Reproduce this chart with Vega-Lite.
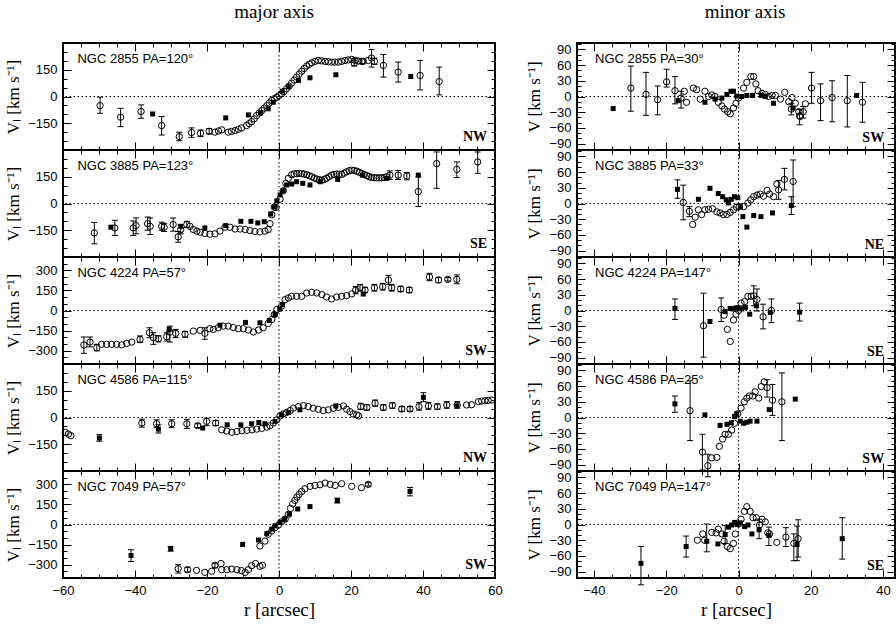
{
"$schema": "https://vega.github.io/schema/vega-lite/v6.json",
"background": "white",
"padding": {"left": 3, "top": 2, "right": 0, "bottom": 0},
"datasets": {"pts": [
{"g":"A1","t":"o","r":-49.7,"v":-51,"lo":-94,"hi":-4},
{"g":"A1","t":"o","r":-44,"v":-116,"lo":-169,"hi":-66},
{"g":"A1","t":"o","r":-38.3,"v":-84,"lo":-122,"hi":-47},
{"g":"A1","t":"s","r":-35.1,"v":-98},
{"g":"A1","t":"o","r":-32.6,"v":-163,"lo":-216,"hi":-112},
{"g":"A1","t":"o","r":-27.7,"v":-225,"lo":-248,"hi":-200},
{"g":"A1","t":"o","r":-24.3,"v":-202,"lo":-229,"hi":-176},
{"g":"A1","t":"o","r":-21.8,"v":-206,"lo":-225,"hi":-188},
{"g":"A1","t":"o","r":-19.4,"v":-195,"lo":-210,"hi":-180},
{"g":"A1","t":"o","r":-17.8,"v":-200},{"g":"A1","t":"o","r":-16.8,"v":-193},{"g":"A1","t":"o","r":-15.9,"v":-187},{"g":"A1","t":"o","r":-14.1,"v":-200},{"g":"A1","t":"o","r":-13.2,"v":-196},{"g":"A1","t":"o","r":-12.2,"v":-191},{"g":"A1","t":"o","r":-11.3,"v":-184},{"g":"A1","t":"o","r":-10.4,"v":-176},{"g":"A1","t":"o","r":-9,"v":-163},{"g":"A1","t":"o","r":-8.3,"v":-152},{"g":"A1","t":"o","r":-7.6,"v":-141},{"g":"A1","t":"o","r":-6.9,"v":-125},{"g":"A1","t":"o","r":-6.2,"v":-107},{"g":"A1","t":"o","r":-5.5,"v":-93},{"g":"A1","t":"o","r":-4.8,"v":-79},{"g":"A1","t":"o","r":-4.1,"v":-65},{"g":"A1","t":"o","r":-3.4,"v":-51},{"g":"A1","t":"o","r":-2.7,"v":-37},{"g":"A1","t":"o","r":-2,"v":-22},{"g":"A1","t":"o","r":-1.3,"v":-12},{"g":"A1","t":"o","r":-0.6,"v":-4},{"g":"A1","t":"o","r":0,"v":5},{"g":"A1","t":"o","r":0.7,"v":15},{"g":"A1","t":"o","r":1.4,"v":28},{"g":"A1","t":"o","r":2.1,"v":43},{"g":"A1","t":"o","r":2.8,"v":58},{"g":"A1","t":"o","r":3.5,"v":75},{"g":"A1","t":"o","r":4.2,"v":92},{"g":"A1","t":"o","r":4.9,"v":109},{"g":"A1","t":"o","r":5.6,"v":125},{"g":"A1","t":"o","r":6.3,"v":142},{"g":"A1","t":"o","r":7,"v":157},{"g":"A1","t":"o","r":7.7,"v":171},{"g":"A1","t":"o","r":8.4,"v":181},{"g":"A1","t":"o","r":9.1,"v":189},{"g":"A1","t":"o","r":10,"v":197},{"g":"A1","t":"o","r":10.9,"v":202},{"g":"A1","t":"o","r":11.8,"v":200},{"g":"A1","t":"o","r":12.8,"v":197},{"g":"A1","t":"o","r":13.7,"v":195},{"g":"A1","t":"o","r":14.6,"v":193},{"g":"A1","t":"o","r":15.5,"v":193},{"g":"A1","t":"o","r":16.5,"v":193},{"g":"A1","t":"o","r":17.4,"v":197},{"g":"A1","t":"o","r":18.3,"v":202},{"g":"A1","t":"o","r":19.2,"v":205},{"g":"A1","t":"o","r":20.2,"v":208},{"g":"A1","t":"o","r":21.1,"v":203},{"g":"A1","t":"o","r":22,"v":199},{"g":"A1","t":"o","r":23.4,"v":197},{"g":"A1","t":"o","r":24.8,"v":202},
{"g":"A1","t":"o","r":20.9,"v":188,"lo":171,"hi":212},
{"g":"A1","t":"o","r":23,"v":197,"lo":184,"hi":212},
{"g":"A1","t":"o","r":25.7,"v":216,"lo":165,"hi":264},
{"g":"A1","t":"o","r":26.5,"v":197,"lo":180,"hi":215},
{"g":"A1","t":"o","r":29,"v":174,"lo":109,"hi":236},
{"g":"A1","t":"o","r":33.1,"v":137,"lo":81,"hi":193},
{"g":"A1","t":"o","r":39.2,"v":118,"lo":37,"hi":202},
{"g":"A1","t":"o","r":44.5,"v":84,"lo":9,"hi":165},
{"g":"A1","t":"s","r":-14.8,"v":-120},{"g":"A1","t":"s","r":-8.5,"v":-103},{"g":"A1","t":"s","r":-5.1,"v":-92},{"g":"A1","t":"s","r":-3,"v":-69},{"g":"A1","t":"s","r":-1.6,"v":-32},{"g":"A1","t":"s","r":0.9,"v":30},{"g":"A1","t":"s","r":2.6,"v":56},{"g":"A1","t":"s","r":5.4,"v":90},{"g":"A1","t":"s","r":8.6,"v":105},{"g":"A1","t":"s","r":15.8,"v":122},{"g":"A1","t":"s","r":36.6,"v":112},

{"g":"A2","t":"o","r":-51.3,"v":-165,"lo":-226,"hi":-106},
{"g":"A2","t":"o","r":-45.6,"v":-137,"lo":-179,"hi":-94},
{"g":"A2","t":"o","r":-40.5,"v":-137,"lo":-179,"hi":-98},
{"g":"A2","t":"o","r":-39.7,"v":-124,"lo":-170,"hi":-81},
{"g":"A2","t":"o","r":-36.5,"v":-113,"lo":-150,"hi":-76},
{"g":"A2","t":"o","r":-35.8,"v":-128,"lo":-174,"hi":-81},
{"g":"A2","t":"o","r":-32.6,"v":-128,"lo":-150,"hi":-105},
{"g":"A2","t":"o","r":-31.9,"v":-133,"lo":-157,"hi":-111},
{"g":"A2","t":"o","r":-29.4,"v":-118,"lo":-155,"hi":-81},
{"g":"A2","t":"o","r":-28,"v":-187,"lo":-217,"hi":-157},
{"g":"A2","t":"o","r":-27.3,"v":-146,"lo":-170,"hi":-120},
{"g":"A2","t":"o","r":-25.6,"v":-118,"lo":-135,"hi":-100},
{"g":"A2","t":"o","r":-24.7,"v":-128},{"g":"A2","t":"o","r":-23.8,"v":-146},{"g":"A2","t":"o","r":-22.8,"v":-155},{"g":"A2","t":"o","r":-21.9,"v":-161},{"g":"A2","t":"o","r":-20.6,"v":-168},{"g":"A2","t":"o","r":-19.2,"v":-172},{"g":"A2","t":"o","r":-17.8,"v":-170},{"g":"A2","t":"o","r":-16.4,"v":-155},{"g":"A2","t":"o","r":-15,"v":-133},{"g":"A2","t":"o","r":-13.6,"v":-133},{"g":"A2","t":"o","r":-12.2,"v":-143},{"g":"A2","t":"o","r":-10.8,"v":-143},{"g":"A2","t":"o","r":-9.4,"v":-146},{"g":"A2","t":"o","r":-8.1,"v":-152},{"g":"A2","t":"o","r":-6.7,"v":-157},{"g":"A2","t":"o","r":-5.3,"v":-159},{"g":"A2","t":"o","r":-3.9,"v":-155},{"g":"A2","t":"o","r":-3,"v":-146},{"g":"A2","t":"o","r":-2.5,"v":-113},{"g":"A2","t":"o","r":-2,"v":-63},{"g":"A2","t":"o","r":-1.3,"v":-20},{"g":"A2","t":"o","r":-0.8,"v":-22},{"g":"A2","t":"o","r":0.3,"v":24},{"g":"A2","t":"o","r":1.2,"v":72},{"g":"A2","t":"o","r":1.9,"v":113},{"g":"A2","t":"o","r":2.6,"v":141},{"g":"A2","t":"o","r":3.5,"v":161},{"g":"A2","t":"o","r":4.2,"v":166},{"g":"A2","t":"o","r":4.9,"v":168},{"g":"A2","t":"o","r":5.6,"v":169},{"g":"A2","t":"o","r":6.3,"v":168},{"g":"A2","t":"o","r":7,"v":165},{"g":"A2","t":"o","r":7.7,"v":161},{"g":"A2","t":"o","r":8.4,"v":156},{"g":"A2","t":"o","r":9.1,"v":150},{"g":"A2","t":"o","r":9.8,"v":143},{"g":"A2","t":"o","r":10.5,"v":137},{"g":"A2","t":"o","r":11.2,"v":133},{"g":"A2","t":"o","r":11.9,"v":131},{"g":"A2","t":"o","r":12.6,"v":135},{"g":"A2","t":"o","r":13.2,"v":141},{"g":"A2","t":"o","r":13.9,"v":150},{"g":"A2","t":"o","r":14.6,"v":159},{"g":"A2","t":"o","r":15.3,"v":163},{"g":"A2","t":"o","r":16,"v":165},{"g":"A2","t":"o","r":16.7,"v":164},{"g":"A2","t":"o","r":17.4,"v":163},{"g":"A2","t":"o","r":18.1,"v":170},{"g":"A2","t":"o","r":18.8,"v":178},{"g":"A2","t":"o","r":19.5,"v":184},{"g":"A2","t":"o","r":20.2,"v":187},{"g":"A2","t":"o","r":20.9,"v":185},{"g":"A2","t":"o","r":21.6,"v":181},{"g":"A2","t":"o","r":22.3,"v":175},{"g":"A2","t":"o","r":23,"v":168},{"g":"A2","t":"o","r":23.7,"v":162},{"g":"A2","t":"o","r":24.4,"v":156},{"g":"A2","t":"o","r":25,"v":151},{"g":"A2","t":"o","r":25.7,"v":146},{"g":"A2","t":"o","r":26.4,"v":145},{"g":"A2","t":"o","r":27.1,"v":144},{"g":"A2","t":"o","r":27.8,"v":144},{"g":"A2","t":"o","r":28.5,"v":144},{"g":"A2","t":"o","r":29.2,"v":146},{"g":"A2","t":"o","r":29.9,"v":150},
{"g":"A2","t":"o","r":30.8,"v":159,"lo":135,"hi":183},
{"g":"A2","t":"o","r":33.1,"v":159,"lo":135,"hi":185},
{"g":"A2","t":"o","r":35.5,"v":154,"lo":133,"hi":174},
{"g":"A2","t":"o","r":38.7,"v":67,"lo":-17,"hi":150},
{"g":"A2","t":"o","r":43.8,"v":224,"lo":85,"hi":289},
{"g":"A2","t":"o","r":49.4,"v":191,"lo":146,"hi":233},
{"g":"A2","t":"o","r":55.2,"v":233,"lo":169,"hi":289},
{"g":"A2","t":"s","r":-46.7,"v":-133},{"g":"A2","t":"s","r":-27.3,"v":-128},{"g":"A2","t":"s","r":-20.6,"v":-137},{"g":"A2","t":"s","r":-14.8,"v":-124},{"g":"A2","t":"s","r":-10.6,"v":-100},{"g":"A2","t":"s","r":-7.8,"v":-100},{"g":"A2","t":"s","r":-5.9,"v":-109},{"g":"A2","t":"s","r":-4.1,"v":-102},{"g":"A2","t":"s","r":-2.3,"v":-59},{"g":"A2","t":"s","r":-1.3,"v":-17},{"g":"A2","t":"s","r":-0.6,"v":15},{"g":"A2","t":"s","r":0.3,"v":48},{"g":"A2","t":"s","r":1.2,"v":72},{"g":"A2","t":"s","r":2.1,"v":104},{"g":"A2","t":"s","r":3.5,"v":109},{"g":"A2","t":"s","r":4.9,"v":122},{"g":"A2","t":"s","r":6.6,"v":113},{"g":"A2","t":"s","r":8.6,"v":104},{"g":"A2","t":"s","r":11.4,"v":122},{"g":"A2","t":"s","r":16.3,"v":135},{"g":"A2","t":"s","r":23.2,"v":159},{"g":"A2","t":"s","r":29.9,"v":141},{"g":"A2","t":"s","r":38.7,"v":159},

{"g":"A3","t":"o","r":-54.2,"v":-258,"lo":-320,"hi":-198},
{"g":"A3","t":"o","r":-52.5,"v":-236,"lo":-272,"hi":-198},
{"g":"A3","t":"o","r":-50.6,"v":-278,"lo":-302,"hi":-253},
{"g":"A3","t":"o","r":-49.3,"v":-253},{"g":"A3","t":"o","r":-47.9,"v":-253},{"g":"A3","t":"o","r":-46.5,"v":-253},{"g":"A3","t":"o","r":-45.1,"v":-253},{"g":"A3","t":"o","r":-43.7,"v":-257},{"g":"A3","t":"o","r":-42.3,"v":-246},{"g":"A3","t":"o","r":-40.9,"v":-236},
{"g":"A3","t":"o","r":-38.6,"v":-216,"lo":-240,"hi":-190},
{"g":"A3","t":"o","r":-36,"v":-166,"lo":-203,"hi":-129},
{"g":"A3","t":"o","r":-34.9,"v":-203,"lo":-253,"hi":-166},
{"g":"A3","t":"o","r":-33.5,"v":-211,"lo":-235,"hi":-188},
{"g":"A3","t":"o","r":-31.2,"v":-196,"lo":-228,"hi":-166},
{"g":"A3","t":"o","r":-30.3,"v":-162,"lo":-236,"hi":-117},
{"g":"A3","t":"o","r":-28.7,"v":-171,"lo":-203,"hi":-141},
{"g":"A3","t":"o","r":-26.1,"v":-178,"lo":-200,"hi":-156},
{"g":"A3","t":"o","r":-23.8,"v":-154},{"g":"A3","t":"o","r":-21.9,"v":-149},
{"g":"A3","t":"o","r":-20.6,"v":-171,"lo":-215,"hi":-129},
{"g":"A3","t":"o","r":-19.2,"v":-136},{"g":"A3","t":"o","r":-18.2,"v":-141},{"g":"A3","t":"o","r":-16.9,"v":-129},{"g":"A3","t":"o","r":-15.5,"v":-117},{"g":"A3","t":"o","r":-14.1,"v":-117},{"g":"A3","t":"o","r":-12.7,"v":-127},{"g":"A3","t":"o","r":-11.3,"v":-136},{"g":"A3","t":"o","r":-9.9,"v":-136},{"g":"A3","t":"o","r":-8.5,"v":-146},{"g":"A3","t":"o","r":-7.1,"v":-161},{"g":"A3","t":"o","r":-5.7,"v":-146},{"g":"A3","t":"o","r":-4.4,"v":-129},{"g":"A3","t":"o","r":-3,"v":-97},{"g":"A3","t":"o","r":-2,"v":-67},{"g":"A3","t":"o","r":-1.3,"v":-30},{"g":"A3","t":"o","r":-0.6,"v":7},{"g":"A3","t":"o","r":0.7,"v":32},{"g":"A3","t":"o","r":1.7,"v":81},{"g":"A3","t":"o","r":2.6,"v":94},{"g":"A3","t":"o","r":3.5,"v":106},{"g":"A3","t":"o","r":4.9,"v":106},{"g":"A3","t":"o","r":6.3,"v":106},{"g":"A3","t":"o","r":7.7,"v":131},{"g":"A3","t":"o","r":9.1,"v":136},{"g":"A3","t":"o","r":10.5,"v":131},{"g":"A3","t":"o","r":11.9,"v":119},{"g":"A3","t":"o","r":13.2,"v":101},{"g":"A3","t":"o","r":14.6,"v":86},{"g":"A3","t":"o","r":16,"v":101},{"g":"A3","t":"o","r":17.4,"v":106},{"g":"A3","t":"o","r":18.8,"v":111},{"g":"A3","t":"o","r":20.2,"v":124},
{"g":"A3","t":"o","r":21.3,"v":153,"lo":125,"hi":180},
{"g":"A3","t":"o","r":22.5,"v":170,"lo":145,"hi":195},
{"g":"A3","t":"o","r":23.9,"v":153,"lo":133,"hi":173},
{"g":"A3","t":"o","r":26.5,"v":170,"lo":145,"hi":195},
{"g":"A3","t":"o","r":28.8,"v":178,"lo":153,"hi":203},
{"g":"A3","t":"o","r":30.4,"v":228,"lo":193,"hi":263},
{"g":"A3","t":"o","r":31.3,"v":170,"lo":145,"hi":195},
{"g":"A3","t":"o","r":33.8,"v":161,"lo":141,"hi":181},
{"g":"A3","t":"o","r":36.2,"v":153,"lo":133,"hi":173},
{"g":"A3","t":"o","r":41.8,"v":250,"lo":223,"hi":278},
{"g":"A3","t":"o","r":44.3,"v":228,"lo":208,"hi":248},
{"g":"A3","t":"o","r":46.9,"v":233,"lo":220,"hi":246},
{"g":"A3","t":"o","r":49.4,"v":233,"lo":200,"hi":266},
{"g":"A3","t":"s","r":-30.5,"v":-141},{"g":"A3","t":"s","r":-16.4,"v":-110},{"g":"A3","t":"s","r":-9.3,"v":-89},{"g":"A3","t":"s","r":-5.3,"v":-92},{"g":"A3","t":"s","r":-2.7,"v":-75},{"g":"A3","t":"s","r":-1.1,"v":-30},{"g":"A3","t":"s","r":0.2,"v":10},{"g":"A3","t":"s","r":1,"v":45},{"g":"A3","t":"s","r":23.4,"v":123},

{"g":"A4","t":"o","r":-59.4,"v":-83},{"g":"A4","t":"o","r":-58.5,"v":-93},{"g":"A4","t":"o","r":-57.8,"v":-102},
{"g":"A4","t":"s","r":-49.9,"v":-115,"lo":-133,"hi":-96},
{"g":"A4","t":"o","r":-38.1,"v":-31,"lo":-54,"hi":-9},
{"g":"A4","t":"o","r":-34,"v":-35,"lo":-57,"hi":-13},
{"g":"A4","t":"s","r":-33.5,"v":-65,"lo":-87,"hi":-41},
{"g":"A4","t":"o","r":-29.8,"v":-35,"lo":-57,"hi":-13},
{"g":"A4","t":"o","r":-25.6,"v":-35,"lo":-61,"hi":-10},
{"g":"A4","t":"o","r":-22.6,"v":-46,"lo":-56,"hi":-35},
{"g":"A4","t":"s","r":-21.2,"v":-59},
{"g":"A4","t":"o","r":-20.1,"v":-22,"lo":-46,"hi":-4},
{"g":"A4","t":"o","r":-17.6,"v":-31,"lo":-45,"hi":-17},
{"g":"A4","t":"o","r":-15.9,"v":-69},{"g":"A4","t":"o","r":-14.5,"v":-76},{"g":"A4","t":"o","r":-13.1,"v":-83},{"g":"A4","t":"o","r":-11.7,"v":-78},{"g":"A4","t":"o","r":-10.3,"v":-74},{"g":"A4","t":"o","r":-8.9,"v":-72},{"g":"A4","t":"o","r":-7.5,"v":-69},{"g":"A4","t":"o","r":-6.2,"v":-65},{"g":"A4","t":"o","r":-4.8,"v":-61},{"g":"A4","t":"o","r":-3.4,"v":-54},{"g":"A4","t":"o","r":-2.5,"v":-46},{"g":"A4","t":"o","r":-1.6,"v":-31},{"g":"A4","t":"o","r":-0.6,"v":-13},{"g":"A4","t":"o","r":0.3,"v":9},{"g":"A4","t":"o","r":1.2,"v":20},{"g":"A4","t":"o","r":2.1,"v":28},{"g":"A4","t":"o","r":3.1,"v":39},{"g":"A4","t":"o","r":4,"v":52},{"g":"A4","t":"o","r":5.4,"v":61},{"g":"A4","t":"o","r":6.8,"v":67},{"g":"A4","t":"o","r":8.1,"v":61},{"g":"A4","t":"o","r":9.5,"v":52},{"g":"A4","t":"o","r":10.9,"v":46},{"g":"A4","t":"o","r":12.3,"v":39},{"g":"A4","t":"o","r":13.7,"v":43},{"g":"A4","t":"o","r":15.1,"v":52},{"g":"A4","t":"o","r":16.5,"v":57},{"g":"A4","t":"o","r":17.9,"v":65},{"g":"A4","t":"o","r":18.8,"v":46},{"g":"A4","t":"o","r":19.7,"v":33},{"g":"A4","t":"o","r":20.6,"v":20},{"g":"A4","t":"o","r":21.6,"v":15},{"g":"A4","t":"o","r":22.1,"v":9},
{"g":"A4","t":"o","r":22.7,"v":61,"lo":46,"hi":80},
{"g":"A4","t":"o","r":24.4,"v":56,"lo":41,"hi":72},
{"g":"A4","t":"o","r":26.7,"v":80,"lo":63,"hi":98},
{"g":"A4","t":"o","r":29,"v":56,"lo":41,"hi":72},
{"g":"A4","t":"o","r":31.5,"v":67,"lo":52,"hi":83},
{"g":"A4","t":"o","r":34.1,"v":48,"lo":35,"hi":61},
{"g":"A4","t":"o","r":36.4,"v":48,"lo":35,"hi":61},
{"g":"A4","t":"o","r":38.9,"v":61,"lo":41,"hi":83},
{"g":"A4","t":"o","r":41.5,"v":65,"lo":46,"hi":85},
{"g":"A4","t":"o","r":44,"v":61,"lo":46,"hi":76},
{"g":"A4","t":"o","r":46.6,"v":70,"lo":52,"hi":89},
{"g":"A4","t":"o","r":49.5,"v":70,"lo":52,"hi":89},
{"g":"A4","t":"o","r":52.1,"v":70},{"g":"A4","t":"o","r":53.5,"v":72},{"g":"A4","t":"o","r":55.4,"v":89},{"g":"A4","t":"o","r":56.3,"v":92},{"g":"A4","t":"o","r":57.2,"v":94},{"g":"A4","t":"o","r":58.1,"v":96},{"g":"A4","t":"o","r":59.1,"v":98},
{"g":"A4","t":"s","r":-14.4,"v":-41},{"g":"A4","t":"s","r":-10.6,"v":-41},{"g":"A4","t":"s","r":-7.6,"v":-35},{"g":"A4","t":"s","r":-5.6,"v":-28},{"g":"A4","t":"s","r":-3.9,"v":-35},{"g":"A4","t":"s","r":-1.1,"v":-22},{"g":"A4","t":"s","r":0.7,"v":15},{"g":"A4","t":"s","r":2.6,"v":28},{"g":"A4","t":"s","r":5.8,"v":43},{"g":"A4","t":"s","r":15.8,"v":65},{"g":"A4","t":"s","r":49.4,"v":65},
{"g":"A4","t":"s","r":40.1,"v":113,"lo":89,"hi":139},

{"g":"A5","t":"o","r":-28,"v":-330,"lo":-363,"hi":-300},
{"g":"A5","t":"o","r":-25.4,"v":-338,"lo":-355,"hi":-320},
{"g":"A5","t":"o","r":-22.9,"v":-343},{"g":"A5","t":"o","r":-20.6,"v":-358},{"g":"A5","t":"o","r":-18.7,"v":-350},
{"g":"A5","t":"o","r":-17.8,"v":-305,"lo":-323,"hi":-290},
{"g":"A5","t":"o","r":-16.1,"v":-292},{"g":"A5","t":"o","r":-15.9,"v":-338},{"g":"A5","t":"o","r":-14.5,"v":-338},{"g":"A5","t":"o","r":-13.1,"v":-333},{"g":"A5","t":"o","r":-11.7,"v":-338},{"g":"A5","t":"o","r":-10.4,"v":-345},{"g":"A5","t":"o","r":-9.4,"v":-358},{"g":"A5","t":"o","r":-8.5,"v":-338},{"g":"A5","t":"o","r":-7.6,"v":-308},{"g":"A5","t":"o","r":-6.5,"v":-292},{"g":"A5","t":"o","r":-5.3,"v":-313},{"g":"A5","t":"o","r":-4.6,"v":-305},
{"g":"A5","t":"o","r":-5.3,"v":-161},{"g":"A5","t":"o","r":-3.9,"v":-124},{"g":"A5","t":"o","r":-3,"v":-73},{"g":"A5","t":"o","r":-2,"v":-48},{"g":"A5","t":"o","r":-1.1,"v":-23},{"g":"A5","t":"o","r":-0.2,"v":-5},{"g":"A5","t":"o","r":0.7,"v":20},{"g":"A5","t":"o","r":1.7,"v":40},{"g":"A5","t":"o","r":2.6,"v":75},{"g":"A5","t":"o","r":3.2,"v":120},{"g":"A5","t":"o","r":3.8,"v":155},{"g":"A5","t":"o","r":4.4,"v":180},{"g":"A5","t":"o","r":5,"v":205},{"g":"A5","t":"o","r":5.6,"v":225},{"g":"A5","t":"o","r":6.3,"v":247},{"g":"A5","t":"o","r":7.2,"v":267},{"g":"A5","t":"o","r":8.6,"v":285},{"g":"A5","t":"o","r":10,"v":292},{"g":"A5","t":"o","r":11.4,"v":297},{"g":"A5","t":"o","r":12.8,"v":310},{"g":"A5","t":"o","r":14.2,"v":300},{"g":"A5","t":"o","r":15.6,"v":292},{"g":"A5","t":"o","r":17.4,"v":305},{"g":"A5","t":"o","r":20.2,"v":285},{"g":"A5","t":"o","r":22.9,"v":275},
{"g":"A5","t":"o","r":24.8,"v":300,"lo":287,"hi":313},
{"g":"A5","t":"s","r":-41.1,"v":-232,"lo":-277,"hi":-189},
{"g":"A5","t":"s","r":-30.1,"v":-181,"lo":-199,"hi":-164},
{"g":"A5","t":"s","r":16.2,"v":179,"lo":161,"hi":197},
{"g":"A5","t":"s","r":36.4,"v":247,"lo":214,"hi":277},
{"g":"A5","t":"s","r":-10.1,"v":-149},{"g":"A5","t":"s","r":-5.7,"v":-116},{"g":"A5","t":"s","r":-3.4,"v":-68},{"g":"A5","t":"s","r":-2,"v":-35},{"g":"A5","t":"s","r":-1.1,"v":-10},{"g":"A5","t":"s","r":0.3,"v":15},{"g":"A5","t":"s","r":1.5,"v":40},{"g":"A5","t":"s","r":2.9,"v":78},{"g":"A5","t":"s","r":5.2,"v":116},{"g":"A5","t":"s","r":8.6,"v":134},

{"g":"B1","t":"o","r":-29.8,"v":16,"lo":-28,"hi":58},
{"g":"B1","t":"o","r":-25.6,"v":4,"lo":-36,"hi":46},
{"g":"B1","t":"o","r":-22.4,"v":-6,"lo":-35,"hi":20},
{"g":"B1","t":"o","r":-19.9,"v":28,"lo":18,"hi":52},
{"g":"B1","t":"o","r":-17.6,"v":11,"lo":-14,"hi":38},
{"g":"B1","t":"o","r":-15.9,"v":-3,"lo":-22,"hi":10},
{"g":"B1","t":"o","r":-15,"v":10},{"g":"B1","t":"o","r":-14.4,"v":-11},{"g":"B1","t":"o","r":-12.5,"v":16},{"g":"B1","t":"o","r":-11.6,"v":13},{"g":"B1","t":"o","r":-10.6,"v":-5},{"g":"B1","t":"o","r":-9.3,"v":10},{"g":"B1","t":"o","r":-8.3,"v":0},{"g":"B1","t":"o","r":-7.4,"v":3},{"g":"B1","t":"o","r":-6.5,"v":0},{"g":"B1","t":"o","r":-5.6,"v":-11},{"g":"B1","t":"o","r":-4.6,"v":-18},{"g":"B1","t":"o","r":-3.9,"v":-24},{"g":"B1","t":"o","r":-3,"v":-29},{"g":"B1","t":"o","r":-2.3,"v":-33},{"g":"B1","t":"o","r":-1.4,"v":-22},{"g":"B1","t":"o","r":-0.7,"v":-13},{"g":"B1","t":"o","r":0,"v":-3},{"g":"B1","t":"o","r":1.4,"v":16},{"g":"B1","t":"o","r":2.3,"v":27},{"g":"B1","t":"o","r":3.4,"v":38},{"g":"B1","t":"o","r":4.2,"v":38},{"g":"B1","t":"o","r":4.8,"v":24},{"g":"B1","t":"o","r":5.4,"v":11},{"g":"B1","t":"o","r":6.5,"v":6},{"g":"B1","t":"o","r":7.4,"v":4},{"g":"B1","t":"o","r":8.3,"v":0},{"g":"B1","t":"o","r":9.3,"v":2},{"g":"B1","t":"o","r":10.2,"v":2},{"g":"B1","t":"o","r":11.6,"v":-5},{"g":"B1","t":"o","r":12.8,"v":8},{"g":"B1","t":"o","r":13.9,"v":-10},{"g":"B1","t":"o","r":14.8,"v":-2},{"g":"B1","t":"o","r":15.7,"v":-13},{"g":"B1","t":"o","r":16.7,"v":-29},{"g":"B1","t":"o","r":17.1,"v":-38},{"g":"B1","t":"o","r":18.5,"v":-14},
{"g":"B1","t":"o","r":14.6,"v":-24,"lo":-35,"hi":-13},
{"g":"B1","t":"o","r":16.9,"v":-37,"lo":-54,"hi":-25},
{"g":"B1","t":"o","r":17.9,"v":-29,"lo":-41,"hi":-19},
{"g":"B1","t":"o","r":20.2,"v":16,"lo":-13,"hi":46},
{"g":"B1","t":"o","r":22.7,"v":-8,"lo":-46,"hi":24},
{"g":"B1","t":"o","r":25.9,"v":-2,"lo":-48,"hi":30},
{"g":"B1","t":"o","r":30.1,"v":-8,"lo":-58,"hi":40},
{"g":"B1","t":"o","r":34.3,"v":-11,"lo":-49,"hi":27},
{"g":"B1","t":"s","r":-34.7,"v":-23},{"g":"B1","t":"s","r":-16.7,"v":-8},{"g":"B1","t":"s","r":-9.3,"v":-11},{"g":"B1","t":"s","r":-6.5,"v":-5},{"g":"B1","t":"s","r":-4.6,"v":-3},{"g":"B1","t":"s","r":-3.2,"v":4},{"g":"B1","t":"s","r":-2.1,"v":10},{"g":"B1","t":"s","r":-1.4,"v":10},{"g":"B1","t":"s","r":-0.5,"v":1},{"g":"B1","t":"s","r":0.9,"v":0},{"g":"B1","t":"s","r":2.3,"v":2},{"g":"B1","t":"s","r":3.9,"v":2},{"g":"B1","t":"s","r":6.3,"v":2},{"g":"B1","t":"s","r":7.4,"v":0},{"g":"B1","t":"s","r":9.7,"v":-13},{"g":"B1","t":"s","r":15.1,"v":-22},{"g":"B1","t":"s","r":32.7,"v":2},

{"g":"B2","t":"s","r":-16.9,"v":27,"lo":10,"hi":45},
{"g":"B2","t":"o","r":-15.3,"v":2,"lo":-31,"hi":35},
{"g":"B2","t":"o","r":-13.6,"v":-15,"lo":-25,"hi":-6},
{"g":"B2","t":"o","r":-12.7,"v":-40},{"g":"B2","t":"o","r":-12,"v":-26},{"g":"B2","t":"o","r":-11.1,"v":-12},{"g":"B2","t":"o","r":-10.2,"v":-21},{"g":"B2","t":"o","r":-9.3,"v":-12},{"g":"B2","t":"o","r":-8.3,"v":-11},{"g":"B2","t":"o","r":-7.2,"v":-10},{"g":"B2","t":"o","r":-6,"v":-16},{"g":"B2","t":"o","r":-5.1,"v":-18},{"g":"B2","t":"o","r":-4.2,"v":-21},{"g":"B2","t":"o","r":-3.2,"v":-21},{"g":"B2","t":"o","r":-2.3,"v":-17},{"g":"B2","t":"o","r":-1.4,"v":-12},{"g":"B2","t":"o","r":-0.6,"v":-7},{"g":"B2","t":"o","r":0.2,"v":-6},{"g":"B2","t":"o","r":1.4,"v":-6},{"g":"B2","t":"o","r":2.6,"v":1},{"g":"B2","t":"o","r":3.4,"v":7},{"g":"B2","t":"o","r":4.2,"v":13},{"g":"B2","t":"o","r":5.1,"v":16},{"g":"B2","t":"o","r":6,"v":18},{"g":"B2","t":"o","r":6.9,"v":14},{"g":"B2","t":"o","r":7.9,"v":25},{"g":"B2","t":"o","r":8.6,"v":18},{"g":"B2","t":"o","r":9.7,"v":13},{"g":"B2","t":"o","r":10.6,"v":37},
{"g":"B2","t":"o","r":11.1,"v":26,"lo":8,"hi":44},
{"g":"B2","t":"o","r":12.7,"v":46,"lo":26,"hi":67},
{"g":"B2","t":"o","r":15.1,"v":42,"lo":-6,"hi":83},
{"g":"B2","t":"s","r":14.6,"v":-4,"lo":-21,"hi":13},
{"g":"B2","t":"s","r":-11.1,"v":8},{"g":"B2","t":"s","r":-7.9,"v":29},{"g":"B2","t":"s","r":-5.6,"v":19},{"g":"B2","t":"s","r":-4.4,"v":13},{"g":"B2","t":"s","r":-3.4,"v":7},{"g":"B2","t":"s","r":-2.8,"v":1},{"g":"B2","t":"s","r":-2,"v":8},{"g":"B2","t":"s","r":-1.1,"v":13},{"g":"B2","t":"s","r":-0.2,"v":11},{"g":"B2","t":"s","r":0.5,"v":-6},{"g":"B2","t":"s","r":1.2,"v":-25},{"g":"B2","t":"s","r":2.3,"v":-45},{"g":"B2","t":"s","r":4.2,"v":-23},{"g":"B2","t":"s","r":6.2,"v":-25},{"g":"B2","t":"s","r":9.4,"v":-18},

{"g":"B3","t":"s","r":-17.6,"v":4,"lo":-17,"hi":22},
{"g":"B3","t":"o","r":-9.7,"v":-29,"lo":-89,"hi":33},
{"g":"B3","t":"s","r":-7.9,"v":-21},
{"g":"B3","t":"o","r":-4.8,"v":2,"lo":-21,"hi":24},
{"g":"B3","t":"o","r":-4,"v":-9},{"g":"B3","t":"o","r":-3.1,"v":-36},{"g":"B3","t":"o","r":-2.3,"v":-59},{"g":"B3","t":"o","r":-1.4,"v":-18},{"g":"B3","t":"o","r":-0.7,"v":-7},{"g":"B3","t":"o","r":0,"v":0},{"g":"B3","t":"o","r":0.7,"v":14},{"g":"B3","t":"o","r":1.7,"v":17},{"g":"B3","t":"o","r":2.6,"v":27},{"g":"B3","t":"o","r":3.5,"v":27},
{"g":"B3","t":"o","r":4.2,"v":28,"lo":9,"hi":47},
{"g":"B3","t":"o","r":5.1,"v":21,"lo":-1,"hi":41},
{"g":"B3","t":"o","r":6.8,"v":-12,"lo":-35,"hi":12},
{"g":"B3","t":"o","r":9.1,"v":0,"lo":-23,"hi":22},
{"g":"B3","t":"s","r":-3.7,"v":-2},{"g":"B3","t":"s","r":-2.3,"v":4},{"g":"B3","t":"s","r":-1.6,"v":3},{"g":"B3","t":"s","r":-0.7,"v":5},{"g":"B3","t":"s","r":0,"v":5},{"g":"B3","t":"s","r":0.9,"v":3},{"g":"B3","t":"s","r":1.9,"v":6},{"g":"B3","t":"s","r":3.1,"v":-7},{"g":"B3","t":"s","r":5,"v":9},{"g":"B3","t":"s","r":8.8,"v":-4},
{"g":"B3","t":"s","r":16.9,"v":-3,"lo":-20,"hi":14},

{"g":"B4","t":"s","r":-17.6,"v":26,"lo":10,"hi":41},
{"g":"B4","t":"o","r":-13.4,"v":13,"lo":-44,"hi":70},
{"g":"B4","t":"o","r":-10,"v":-66,"lo":-100,"hi":-32},
{"g":"B4","t":"o","r":-8.5,"v":-92,"lo":-113,"hi":-70},
{"g":"B4","t":"s","r":-9.3,"v":5},
{"g":"B4","t":"o","r":-7.4,"v":-77},{"g":"B4","t":"o","r":-6,"v":-76},{"g":"B4","t":"o","r":-5.3,"v":-55},{"g":"B4","t":"o","r":-4.4,"v":-41},{"g":"B4","t":"o","r":-3.7,"v":-32},{"g":"B4","t":"o","r":-2.8,"v":-32},{"g":"B4","t":"o","r":-1.9,"v":-24},{"g":"B4","t":"o","r":-1.1,"v":-11},{"g":"B4","t":"o","r":-0.2,"v":7},{"g":"B4","t":"o","r":0.7,"v":18},{"g":"B4","t":"o","r":1.6,"v":30},{"g":"B4","t":"o","r":2.3,"v":37},{"g":"B4","t":"o","r":3,"v":41},{"g":"B4","t":"o","r":3.9,"v":41},{"g":"B4","t":"o","r":4.6,"v":49},{"g":"B4","t":"o","r":5.6,"v":37},{"g":"B4","t":"o","r":6.3,"v":59},{"g":"B4","t":"o","r":7.1,"v":68},
{"g":"B4","t":"o","r":7.9,"v":57,"lo":39,"hi":72},
{"g":"B4","t":"o","r":9.4,"v":33,"lo":4,"hi":63},
{"g":"B4","t":"o","r":12,"v":30,"lo":-44,"hi":85},
{"g":"B4","t":"s","r":-5.1,"v":-15},{"g":"B4","t":"s","r":-3.2,"v":-13},{"g":"B4","t":"s","r":-2,"v":-10},{"g":"B4","t":"s","r":-1.1,"v":2},{"g":"B4","t":"s","r":-0.5,"v":7},{"g":"B4","t":"s","r":0.5,"v":-7},{"g":"B4","t":"s","r":1.4,"v":-11},{"g":"B4","t":"s","r":2.3,"v":-9},{"g":"B4","t":"s","r":3.2,"v":-7},{"g":"B4","t":"s","r":5.1,"v":-7},{"g":"B4","t":"s","r":8.5,"v":15},{"g":"B4","t":"s","r":15.7,"v":35},

{"g":"B5","t":"s","r":-27,"v":-74,"lo":-115,"hi":-42},
{"g":"B5","t":"s","r":-14.5,"v":-42,"lo":-62,"hi":-22},
{"g":"B5","t":"s","r":-8.8,"v":-32,"lo":-52,"hi":1},
{"g":"B5","t":"s","r":-3.7,"v":-19,"lo":-36,"hi":-2},
{"g":"B5","t":"s","r":5.7,"v":-10,"lo":-27,"hi":10},
{"g":"B5","t":"s","r":8.4,"v":-21,"lo":-40,"hi":-5},
{"g":"B5","t":"s","r":16.2,"v":-38,"lo":-69,"hi":-3},
{"g":"B5","t":"s","r":28.7,"v":-27,"lo":-66,"hi":13},
{"g":"B5","t":"s","r":-5.7,"v":-37},{"g":"B5","t":"s","r":-2.8,"v":-5},{"g":"B5","t":"s","r":-1.9,"v":-1},{"g":"B5","t":"s","r":-1.1,"v":4},{"g":"B5","t":"s","r":-0.4,"v":0},{"g":"B5","t":"s","r":0.5,"v":3},{"g":"B5","t":"s","r":1.7,"v":-4},{"g":"B5","t":"s","r":2.6,"v":-1},{"g":"B5","t":"s","r":3.7,"v":-18},
{"g":"B5","t":"o","r":-11.4,"v":-30},{"g":"B5","t":"o","r":-9.9,"v":-18},{"g":"B5","t":"o","r":-9.4,"v":-30},{"g":"B5","t":"o","r":-7.4,"v":-15},{"g":"B5","t":"o","r":-6.2,"v":-16},{"g":"B5","t":"o","r":-5.6,"v":-9},{"g":"B5","t":"o","r":-4.6,"v":-18},{"g":"B5","t":"o","r":-4,"v":-32},{"g":"B5","t":"o","r":-3.1,"v":-42},{"g":"B5","t":"o","r":-2.3,"v":-46},{"g":"B5","t":"o","r":-1.4,"v":-36},{"g":"B5","t":"o","r":-0.9,"v":-18},{"g":"B5","t":"o","r":0,"v":1},{"g":"B5","t":"o","r":0.7,"v":10},{"g":"B5","t":"o","r":1.6,"v":25},{"g":"B5","t":"o","r":2.3,"v":34},{"g":"B5","t":"o","r":3.2,"v":25},{"g":"B5","t":"o","r":4,"v":13},{"g":"B5","t":"o","r":4.9,"v":13},{"g":"B5","t":"o","r":5.8,"v":-1},{"g":"B5","t":"o","r":6.5,"v":10},{"g":"B5","t":"o","r":7.4,"v":5},{"g":"B5","t":"o","r":8.1,"v":-16},{"g":"B5","t":"o","r":8.6,"v":-18},{"g":"B5","t":"o","r":10.6,"v":-34},
{"g":"B5","t":"o","r":13.1,"v":-24,"lo":-42,"hi":-6},
{"g":"B5","t":"o","r":15.3,"v":-36,"lo":-69,"hi":-18},
{"g":"B5","t":"o","r":16.5,"v":-27,"lo":-62,"hi":9}
]},
"data": {"name": "pts"},
"spacing": 20,
"hconcat": [
{"title": {"text": "major axis", "anchor": "middle", "frame": "group", "dx": 211}, "spacing": 0, "bounds": "flush", "vconcat": [
{"width": 432, "height": 107, "resolve": {"axis": {"x": "independent", "y": "independent"}}, "layer": [
 {"data": {"values": [{}]}, "mark": {"type": "rule", "color": "black", "strokeWidth": 1, "strokeDash": [1.5, 2.5]}, "encoding": {"x": {"datum": 0, "type": "quantitative", "scale": {"domain": [-60, 60], "nice": false}, "axis": {"orient": "bottom", "values": [-60,-40,-20,0,20,40,60], "tickSize": -8, "labels": false, "title": null}}}},
 {"data": {"values": [{}]}, "mark": {"type": "rule", "color": "black", "strokeWidth": 1, "strokeDash": [1.5, 2.5]}, "encoding": {"y": {"datum": 0, "type": "quantitative", "scale": {"domain": [-300, 300], "nice": false}, "axis": {"orient": "left", "values": [-150,0,150], "tickSize": -8, "labelPadding": 14, "title": "Vₗ [km s⁻¹]", "titlePadding": 5}}}},
 {"transform": [{"filter": "datum.g=='A1' && isValid(datum.lo)"}], "mark": {"type": "rule", "color": "black", "strokeWidth": 1}, "encoding": {"x": {"field": "r", "type": "quantitative", "scale": {"domain": [-60, 60], "nice": false}, "axis": {"orient": "top", "values": [-60,-40,-20,0,20,40,60], "tickSize": -8, "labels": false, "title": null}}, "y": {"field": "lo", "type": "quantitative", "scale": {"domain": [-300, 300], "nice": false}, "axis": {"orient": "right", "values": [-150,0,150], "tickSize": -8, "labels": false, "title": null}}, "y2": {"field": "hi"}}},
 {"transform": [{"filter": "datum.g=='A1' && isValid(datum.lo)"}], "mark": {"type": "tick", "orient": "horizontal", "size": 6, "thickness": 1, "color": "black", "opacity": 1}, "encoding": {"x": {"field": "r", "type": "quantitative", "scale": {"domain": [-60, 60], "nice": false}, "axis": {"orient": "bottom", "values": [-60,-55,-50,-45,-40,-35,-30,-25,-20,-15,-10,-5,0,5,10,15,20,25,30,35,40,45,50,55,60], "tickSize": -4, "labels": false, "title": null}}, "y": {"field": "lo", "type": "quantitative", "scale": {"domain": [-300, 300], "nice": false}, "axis": {"orient": "left", "values": [-300,-250,-200,-150,-100,-50,0,50,100,150,200,250,300], "tickSize": -4, "labels": false, "title": null}}}},
 {"transform": [{"filter": "datum.g=='A1' && isValid(datum.lo)"}], "mark": {"type": "tick", "orient": "horizontal", "size": 6, "thickness": 1, "color": "black", "opacity": 1}, "encoding": {"x": {"field": "r", "type": "quantitative", "scale": {"domain": [-60, 60], "nice": false}, "axis": {"orient": "top", "values": [-60,-55,-50,-45,-40,-35,-30,-25,-20,-15,-10,-5,0,5,10,15,20,25,30,35,40,45,50,55,60], "tickSize": -4, "labels": false, "title": null}}, "y": {"field": "hi", "type": "quantitative", "scale": {"domain": [-300, 300], "nice": false}, "axis": {"orient": "right", "values": [-300,-250,-200,-150,-100,-50,0,50,100,150,200,250,300], "tickSize": -4, "labels": false, "title": null}}}},
 {"transform": [{"filter": "datum.g=='A1' && datum.t=='o'"}], "mark": {"type": "point", "shape": "circle", "filled": false, "color": "black", "size": 40, "strokeWidth": 1, "opacity": 1}, "encoding": {"x": {"field": "r", "type": "quantitative", "scale": {"domain": [-60, 60], "nice": false}, "axis": null}, "y": {"field": "v", "type": "quantitative", "scale": {"domain": [-300, 300], "nice": false}, "axis": null}}},
 {"transform": [{"filter": "datum.g=='A1' && datum.t=='s'"}], "mark": {"type": "square", "color": "black", "size": 25, "opacity": 1}, "encoding": {"x": {"field": "r", "type": "quantitative", "scale": {"domain": [-60, 60], "nice": false}, "axis": null}, "y": {"field": "v", "type": "quantitative", "scale": {"domain": [-300, 300], "nice": false}, "axis": null}}},
 {"data": {"values": [{}]}, "mark": {"type": "text", "align": "left", "baseline": "middle", "font": "Liberation Sans", "fontSize": 13, "color": "black"}, "encoding": {"x": {"datum": -56, "type": "quantitative", "axis": null}, "y": {"datum": 210, "type": "quantitative", "axis": null}, "text": {"value": "NGC 2855 PA=120°"}}},
 {"data": {"values": [{}]}, "mark": {"type": "text", "align": "right", "baseline": "middle", "font": "Liberation Serif", "fontWeight": "bold", "fontSize": 14, "color": "black"}, "encoding": {"x": {"datum": 57.8, "type": "quantitative", "axis": null}, "y": {"datum": -225, "type": "quantitative", "axis": null}, "text": {"value": "NW"}}}
]},
{"width": 432, "height": 107, "resolve": {"axis": {"x": "independent", "y": "independent"}}, "layer": [
 {"data": {"values": [{}]}, "mark": {"type": "rule", "color": "black", "strokeWidth": 1, "strokeDash": [1.5, 2.5]}, "encoding": {"x": {"datum": 0, "type": "quantitative", "scale": {"domain": [-60, 60], "nice": false}, "axis": {"orient": "bottom", "values": [-60,-40,-20,0,20,40,60], "tickSize": -8, "labels": false, "title": null}}}},
 {"data": {"values": [{}]}, "mark": {"type": "rule", "color": "black", "strokeWidth": 1, "strokeDash": [1.5, 2.5]}, "encoding": {"y": {"datum": 0, "type": "quantitative", "scale": {"domain": [-300, 300], "nice": false}, "axis": {"orient": "left", "values": [-150,0,150], "tickSize": -8, "labelPadding": 14, "title": "Vₗ [km s⁻¹]", "titlePadding": 5}}}},
 {"transform": [{"filter": "datum.g=='A2' && isValid(datum.lo)"}], "mark": {"type": "rule", "color": "black", "strokeWidth": 1}, "encoding": {"x": {"field": "r", "type": "quantitative", "scale": {"domain": [-60, 60], "nice": false}, "axis": {"orient": "top", "values": [-60,-40,-20,0,20,40,60], "tickSize": -8, "labels": false, "title": null}}, "y": {"field": "lo", "type": "quantitative", "scale": {"domain": [-300, 300], "nice": false}, "axis": {"orient": "right", "values": [-150,0,150], "tickSize": -8, "labels": false, "title": null}}, "y2": {"field": "hi"}}},
 {"transform": [{"filter": "datum.g=='A2' && isValid(datum.lo)"}], "mark": {"type": "tick", "orient": "horizontal", "size": 6, "thickness": 1, "color": "black", "opacity": 1}, "encoding": {"x": {"field": "r", "type": "quantitative", "scale": {"domain": [-60, 60], "nice": false}, "axis": {"orient": "bottom", "values": [-60,-55,-50,-45,-40,-35,-30,-25,-20,-15,-10,-5,0,5,10,15,20,25,30,35,40,45,50,55,60], "tickSize": -4, "labels": false, "title": null}}, "y": {"field": "lo", "type": "quantitative", "scale": {"domain": [-300, 300], "nice": false}, "axis": {"orient": "left", "values": [-300,-250,-200,-150,-100,-50,0,50,100,150,200,250,300], "tickSize": -4, "labels": false, "title": null}}}},
 {"transform": [{"filter": "datum.g=='A2' && isValid(datum.lo)"}], "mark": {"type": "tick", "orient": "horizontal", "size": 6, "thickness": 1, "color": "black", "opacity": 1}, "encoding": {"x": {"field": "r", "type": "quantitative", "scale": {"domain": [-60, 60], "nice": false}, "axis": {"orient": "top", "values": [-60,-55,-50,-45,-40,-35,-30,-25,-20,-15,-10,-5,0,5,10,15,20,25,30,35,40,45,50,55,60], "tickSize": -4, "labels": false, "title": null}}, "y": {"field": "hi", "type": "quantitative", "scale": {"domain": [-300, 300], "nice": false}, "axis": {"orient": "right", "values": [-300,-250,-200,-150,-100,-50,0,50,100,150,200,250,300], "tickSize": -4, "labels": false, "title": null}}}},
 {"transform": [{"filter": "datum.g=='A2' && datum.t=='o'"}], "mark": {"type": "point", "shape": "circle", "filled": false, "color": "black", "size": 40, "strokeWidth": 1, "opacity": 1}, "encoding": {"x": {"field": "r", "type": "quantitative", "scale": {"domain": [-60, 60], "nice": false}, "axis": null}, "y": {"field": "v", "type": "quantitative", "scale": {"domain": [-300, 300], "nice": false}, "axis": null}}},
 {"transform": [{"filter": "datum.g=='A2' && datum.t=='s'"}], "mark": {"type": "square", "color": "black", "size": 25, "opacity": 1}, "encoding": {"x": {"field": "r", "type": "quantitative", "scale": {"domain": [-60, 60], "nice": false}, "axis": null}, "y": {"field": "v", "type": "quantitative", "scale": {"domain": [-300, 300], "nice": false}, "axis": null}}},
 {"data": {"values": [{}]}, "mark": {"type": "text", "align": "left", "baseline": "middle", "font": "Liberation Sans", "fontSize": 13, "color": "black"}, "encoding": {"x": {"datum": -56, "type": "quantitative", "axis": null}, "y": {"datum": 210, "type": "quantitative", "axis": null}, "text": {"value": "NGC 3885 PA=123°"}}},
 {"data": {"values": [{}]}, "mark": {"type": "text", "align": "right", "baseline": "middle", "font": "Liberation Serif", "fontWeight": "bold", "fontSize": 14, "color": "black"}, "encoding": {"x": {"datum": 57.8, "type": "quantitative", "axis": null}, "y": {"datum": -225, "type": "quantitative", "axis": null}, "text": {"value": "SE"}}}
]},
{"width": 432, "height": 107, "resolve": {"axis": {"x": "independent", "y": "independent"}}, "layer": [
 {"data": {"values": [{}]}, "mark": {"type": "rule", "color": "black", "strokeWidth": 1, "strokeDash": [1.5, 2.5]}, "encoding": {"x": {"datum": 0, "type": "quantitative", "scale": {"domain": [-60, 60], "nice": false}, "axis": {"orient": "bottom", "values": [-60,-40,-20,0,20,40,60], "tickSize": -8, "labels": false, "title": null}}}},
 {"data": {"values": [{}]}, "mark": {"type": "rule", "color": "black", "strokeWidth": 1, "strokeDash": [1.5, 2.5]}, "encoding": {"y": {"datum": 0, "type": "quantitative", "scale": {"domain": [-400, 400], "nice": false}, "axis": {"orient": "left", "values": [-300,-150,0,150,300], "tickSize": -8, "labelPadding": 14, "title": "Vₗ [km s⁻¹]", "titlePadding": 5}}}},
 {"transform": [{"filter": "datum.g=='A3' && isValid(datum.lo)"}], "mark": {"type": "rule", "color": "black", "strokeWidth": 1}, "encoding": {"x": {"field": "r", "type": "quantitative", "scale": {"domain": [-60, 60], "nice": false}, "axis": {"orient": "top", "values": [-60,-40,-20,0,20,40,60], "tickSize": -8, "labels": false, "title": null}}, "y": {"field": "lo", "type": "quantitative", "scale": {"domain": [-400, 400], "nice": false}, "axis": {"orient": "right", "values": [-300,-150,0,150,300], "tickSize": -8, "labels": false, "title": null}}, "y2": {"field": "hi"}}},
 {"transform": [{"filter": "datum.g=='A3' && isValid(datum.lo)"}], "mark": {"type": "tick", "orient": "horizontal", "size": 6, "thickness": 1, "color": "black", "opacity": 1}, "encoding": {"x": {"field": "r", "type": "quantitative", "scale": {"domain": [-60, 60], "nice": false}, "axis": {"orient": "bottom", "values": [-60,-55,-50,-45,-40,-35,-30,-25,-20,-15,-10,-5,0,5,10,15,20,25,30,35,40,45,50,55,60], "tickSize": -4, "labels": false, "title": null}}, "y": {"field": "lo", "type": "quantitative", "scale": {"domain": [-400, 400], "nice": false}, "axis": {"orient": "left", "values": [-400,-350,-300,-250,-200,-150,-100,-50,0,50,100,150,200,250,300,350,400], "tickSize": -4, "labels": false, "title": null}}}},
 {"transform": [{"filter": "datum.g=='A3' && isValid(datum.lo)"}], "mark": {"type": "tick", "orient": "horizontal", "size": 6, "thickness": 1, "color": "black", "opacity": 1}, "encoding": {"x": {"field": "r", "type": "quantitative", "scale": {"domain": [-60, 60], "nice": false}, "axis": {"orient": "top", "values": [-60,-55,-50,-45,-40,-35,-30,-25,-20,-15,-10,-5,0,5,10,15,20,25,30,35,40,45,50,55,60], "tickSize": -4, "labels": false, "title": null}}, "y": {"field": "hi", "type": "quantitative", "scale": {"domain": [-400, 400], "nice": false}, "axis": {"orient": "right", "values": [-400,-350,-300,-250,-200,-150,-100,-50,0,50,100,150,200,250,300,350,400], "tickSize": -4, "labels": false, "title": null}}}},
 {"transform": [{"filter": "datum.g=='A3' && datum.t=='o'"}], "mark": {"type": "point", "shape": "circle", "filled": false, "color": "black", "size": 40, "strokeWidth": 1, "opacity": 1}, "encoding": {"x": {"field": "r", "type": "quantitative", "scale": {"domain": [-60, 60], "nice": false}, "axis": null}, "y": {"field": "v", "type": "quantitative", "scale": {"domain": [-400, 400], "nice": false}, "axis": null}}},
 {"transform": [{"filter": "datum.g=='A3' && datum.t=='s'"}], "mark": {"type": "square", "color": "black", "size": 25, "opacity": 1}, "encoding": {"x": {"field": "r", "type": "quantitative", "scale": {"domain": [-60, 60], "nice": false}, "axis": null}, "y": {"field": "v", "type": "quantitative", "scale": {"domain": [-400, 400], "nice": false}, "axis": null}}},
 {"data": {"values": [{}]}, "mark": {"type": "text", "align": "left", "baseline": "middle", "font": "Liberation Sans", "fontSize": 13, "color": "black"}, "encoding": {"x": {"datum": -56, "type": "quantitative", "axis": null}, "y": {"datum": 281, "type": "quantitative", "axis": null}, "text": {"value": "NGC 4224 PA=57°"}}},
 {"data": {"values": [{}]}, "mark": {"type": "text", "align": "right", "baseline": "middle", "font": "Liberation Serif", "fontWeight": "bold", "fontSize": 14, "color": "black"}, "encoding": {"x": {"datum": 57.8, "type": "quantitative", "axis": null}, "y": {"datum": -300, "type": "quantitative", "axis": null}, "text": {"value": "SW"}}}
]},
{"width": 432, "height": 107, "resolve": {"axis": {"x": "independent", "y": "independent"}}, "layer": [
 {"data": {"values": [{}]}, "mark": {"type": "rule", "color": "black", "strokeWidth": 1, "strokeDash": [1.5, 2.5]}, "encoding": {"x": {"datum": 0, "type": "quantitative", "scale": {"domain": [-60, 60], "nice": false}, "axis": {"orient": "bottom", "values": [-60,-40,-20,0,20,40,60], "tickSize": -8, "labels": false, "title": null}}}},
 {"data": {"values": [{}]}, "mark": {"type": "rule", "color": "black", "strokeWidth": 1, "strokeDash": [1.5, 2.5]}, "encoding": {"y": {"datum": 0, "type": "quantitative", "scale": {"domain": [-300, 300], "nice": false}, "axis": {"orient": "left", "values": [-150,0,150], "tickSize": -8, "labelPadding": 14, "title": "Vₗ [km s⁻¹]", "titlePadding": 5}}}},
 {"transform": [{"filter": "datum.g=='A4' && isValid(datum.lo)"}], "mark": {"type": "rule", "color": "black", "strokeWidth": 1}, "encoding": {"x": {"field": "r", "type": "quantitative", "scale": {"domain": [-60, 60], "nice": false}, "axis": {"orient": "top", "values": [-60,-40,-20,0,20,40,60], "tickSize": -8, "labels": false, "title": null}}, "y": {"field": "lo", "type": "quantitative", "scale": {"domain": [-300, 300], "nice": false}, "axis": {"orient": "right", "values": [-150,0,150], "tickSize": -8, "labels": false, "title": null}}, "y2": {"field": "hi"}}},
 {"transform": [{"filter": "datum.g=='A4' && isValid(datum.lo)"}], "mark": {"type": "tick", "orient": "horizontal", "size": 6, "thickness": 1, "color": "black", "opacity": 1}, "encoding": {"x": {"field": "r", "type": "quantitative", "scale": {"domain": [-60, 60], "nice": false}, "axis": {"orient": "bottom", "values": [-60,-55,-50,-45,-40,-35,-30,-25,-20,-15,-10,-5,0,5,10,15,20,25,30,35,40,45,50,55,60], "tickSize": -4, "labels": false, "title": null}}, "y": {"field": "lo", "type": "quantitative", "scale": {"domain": [-300, 300], "nice": false}, "axis": {"orient": "left", "values": [-300,-250,-200,-150,-100,-50,0,50,100,150,200,250,300], "tickSize": -4, "labels": false, "title": null}}}},
 {"transform": [{"filter": "datum.g=='A4' && isValid(datum.lo)"}], "mark": {"type": "tick", "orient": "horizontal", "size": 6, "thickness": 1, "color": "black", "opacity": 1}, "encoding": {"x": {"field": "r", "type": "quantitative", "scale": {"domain": [-60, 60], "nice": false}, "axis": {"orient": "top", "values": [-60,-55,-50,-45,-40,-35,-30,-25,-20,-15,-10,-5,0,5,10,15,20,25,30,35,40,45,50,55,60], "tickSize": -4, "labels": false, "title": null}}, "y": {"field": "hi", "type": "quantitative", "scale": {"domain": [-300, 300], "nice": false}, "axis": {"orient": "right", "values": [-300,-250,-200,-150,-100,-50,0,50,100,150,200,250,300], "tickSize": -4, "labels": false, "title": null}}}},
 {"transform": [{"filter": "datum.g=='A4' && datum.t=='o'"}], "mark": {"type": "point", "shape": "circle", "filled": false, "color": "black", "size": 40, "strokeWidth": 1, "opacity": 1}, "encoding": {"x": {"field": "r", "type": "quantitative", "scale": {"domain": [-60, 60], "nice": false}, "axis": null}, "y": {"field": "v", "type": "quantitative", "scale": {"domain": [-300, 300], "nice": false}, "axis": null}}},
 {"transform": [{"filter": "datum.g=='A4' && datum.t=='s'"}], "mark": {"type": "square", "color": "black", "size": 25, "opacity": 1}, "encoding": {"x": {"field": "r", "type": "quantitative", "scale": {"domain": [-60, 60], "nice": false}, "axis": null}, "y": {"field": "v", "type": "quantitative", "scale": {"domain": [-300, 300], "nice": false}, "axis": null}}},
 {"data": {"values": [{}]}, "mark": {"type": "text", "align": "left", "baseline": "middle", "font": "Liberation Sans", "fontSize": 13, "color": "black"}, "encoding": {"x": {"datum": -56, "type": "quantitative", "axis": null}, "y": {"datum": 210, "type": "quantitative", "axis": null}, "text": {"value": "NGC 4586 PA=115°"}}},
 {"data": {"values": [{}]}, "mark": {"type": "text", "align": "right", "baseline": "middle", "font": "Liberation Serif", "fontWeight": "bold", "fontSize": 14, "color": "black"}, "encoding": {"x": {"datum": 57.8, "type": "quantitative", "axis": null}, "y": {"datum": -225, "type": "quantitative", "axis": null}, "text": {"value": "NW"}}}
]},
{"width": 432, "height": 107, "resolve": {"axis": {"x": "independent", "y": "independent"}}, "layer": [
 {"data": {"values": [{}]}, "mark": {"type": "rule", "color": "black", "strokeWidth": 1, "strokeDash": [1.5, 2.5]}, "encoding": {"x": {"datum": 0, "type": "quantitative", "scale": {"domain": [-60, 60], "nice": false}, "axis": {"orient": "bottom", "values": [-60,-40,-20,0,20,40,60], "tickSize": -8, "labelPadding": 14, "title": "r [arcsec]", "titlePadding": 3, "titleFontSize": 19}}}},
 {"data": {"values": [{}]}, "mark": {"type": "rule", "color": "black", "strokeWidth": 1, "strokeDash": [1.5, 2.5]}, "encoding": {"y": {"datum": 0, "type": "quantitative", "scale": {"domain": [-400, 400], "nice": false}, "axis": {"orient": "left", "values": [-300,-150,0,150,300], "tickSize": -8, "labelPadding": 14, "title": "Vₗ [km s⁻¹]", "titlePadding": 5}}}},
 {"transform": [{"filter": "datum.g=='A5' && isValid(datum.lo)"}], "mark": {"type": "rule", "color": "black", "strokeWidth": 1}, "encoding": {"x": {"field": "r", "type": "quantitative", "scale": {"domain": [-60, 60], "nice": false}, "axis": {"orient": "top", "values": [-60,-40,-20,0,20,40,60], "tickSize": -8, "labels": false, "title": null}}, "y": {"field": "lo", "type": "quantitative", "scale": {"domain": [-400, 400], "nice": false}, "axis": {"orient": "right", "values": [-300,-150,0,150,300], "tickSize": -8, "labels": false, "title": null}}, "y2": {"field": "hi"}}},
 {"transform": [{"filter": "datum.g=='A5' && isValid(datum.lo)"}], "mark": {"type": "tick", "orient": "horizontal", "size": 6, "thickness": 1, "color": "black", "opacity": 1}, "encoding": {"x": {"field": "r", "type": "quantitative", "scale": {"domain": [-60, 60], "nice": false}, "axis": {"orient": "bottom", "values": [-60,-55,-50,-45,-40,-35,-30,-25,-20,-15,-10,-5,0,5,10,15,20,25,30,35,40,45,50,55,60], "tickSize": -4, "labels": false, "title": null}}, "y": {"field": "lo", "type": "quantitative", "scale": {"domain": [-400, 400], "nice": false}, "axis": {"orient": "left", "values": [-400,-350,-300,-250,-200,-150,-100,-50,0,50,100,150,200,250,300,350,400], "tickSize": -4, "labels": false, "title": null}}}},
 {"transform": [{"filter": "datum.g=='A5' && isValid(datum.lo)"}], "mark": {"type": "tick", "orient": "horizontal", "size": 6, "thickness": 1, "color": "black", "opacity": 1}, "encoding": {"x": {"field": "r", "type": "quantitative", "scale": {"domain": [-60, 60], "nice": false}, "axis": {"orient": "top", "values": [-60,-55,-50,-45,-40,-35,-30,-25,-20,-15,-10,-5,0,5,10,15,20,25,30,35,40,45,50,55,60], "tickSize": -4, "labels": false, "title": null}}, "y": {"field": "hi", "type": "quantitative", "scale": {"domain": [-400, 400], "nice": false}, "axis": {"orient": "right", "values": [-400,-350,-300,-250,-200,-150,-100,-50,0,50,100,150,200,250,300,350,400], "tickSize": -4, "labels": false, "title": null}}}},
 {"transform": [{"filter": "datum.g=='A5' && datum.t=='o'"}], "mark": {"type": "point", "shape": "circle", "filled": false, "color": "black", "size": 40, "strokeWidth": 1, "opacity": 1}, "encoding": {"x": {"field": "r", "type": "quantitative", "scale": {"domain": [-60, 60], "nice": false}, "axis": null}, "y": {"field": "v", "type": "quantitative", "scale": {"domain": [-400, 400], "nice": false}, "axis": null}}},
 {"transform": [{"filter": "datum.g=='A5' && datum.t=='s'"}], "mark": {"type": "square", "color": "black", "size": 25, "opacity": 1}, "encoding": {"x": {"field": "r", "type": "quantitative", "scale": {"domain": [-60, 60], "nice": false}, "axis": null}, "y": {"field": "v", "type": "quantitative", "scale": {"domain": [-400, 400], "nice": false}, "axis": null}}},
 {"data": {"values": [{}]}, "mark": {"type": "text", "align": "left", "baseline": "middle", "font": "Liberation Sans", "fontSize": 13, "color": "black"}, "encoding": {"x": {"datum": -56, "type": "quantitative", "axis": null}, "y": {"datum": 281, "type": "quantitative", "axis": null}, "text": {"value": "NGC 7049 PA=57°"}}},
 {"data": {"values": [{}]}, "mark": {"type": "text", "align": "right", "baseline": "middle", "font": "Liberation Serif", "fontWeight": "bold", "fontSize": 14, "color": "black"}, "encoding": {"x": {"datum": 57.8, "type": "quantitative", "axis": null}, "y": {"datum": -300, "type": "quantitative", "axis": null}, "text": {"value": "SW"}}}
]}
]},
{"title": {"text": "minor axis", "anchor": "middle", "frame": "group", "dx": 168}, "spacing": 0, "bounds": "flush", "vconcat": [
{"width": 318, "height": 107, "resolve": {"axis": {"x": "independent", "y": "independent"}}, "layer": [
 {"data": {"values": [{}]}, "mark": {"type": "rule", "color": "black", "strokeWidth": 1, "strokeDash": [1.5, 2.5]}, "encoding": {"x": {"datum": 0, "type": "quantitative", "scale": {"domain": [-44.7, 43.3], "nice": false}, "axis": {"orient": "bottom", "values": [-40,-20,0,20,40], "tickSize": -8, "labels": false, "title": null}}}},
 {"data": {"values": [{}]}, "mark": {"type": "rule", "color": "black", "strokeWidth": 1, "strokeDash": [1.5, 2.5]}, "encoding": {"y": {"datum": 0, "type": "quantitative", "scale": {"domain": [-102, 102], "nice": false}, "axis": {"orient": "left", "values": [-90,-60,-30,0,30,60,90], "tickSize": -8, "labelPadding": 14, "title": "V [km s⁻¹]", "titlePadding": 5}}}},
 {"transform": [{"filter": "datum.g=='B1' && isValid(datum.lo)"}], "mark": {"type": "rule", "color": "black", "strokeWidth": 1}, "encoding": {"x": {"field": "r", "type": "quantitative", "scale": {"domain": [-44.7, 43.3], "nice": false}, "axis": {"orient": "top", "values": [-40,-20,0,20,40], "tickSize": -8, "labels": false, "title": null}}, "y": {"field": "lo", "type": "quantitative", "scale": {"domain": [-102, 102], "nice": false}, "axis": {"orient": "right", "values": [-90,-60,-30,0,30,60,90], "tickSize": -8, "labels": false, "title": null}}, "y2": {"field": "hi"}}},
 {"transform": [{"filter": "datum.g=='B1' && isValid(datum.lo)"}], "mark": {"type": "tick", "orient": "horizontal", "size": 6, "thickness": 1, "color": "black", "opacity": 1}, "encoding": {"x": {"field": "r", "type": "quantitative", "scale": {"domain": [-44.7, 43.3], "nice": false}, "axis": {"orient": "bottom", "values": [-40,-35,-30,-25,-20,-15,-10,-5,0,5,10,15,20,25,30,35,40], "tickSize": -4, "labels": false, "title": null}}, "y": {"field": "lo", "type": "quantitative", "scale": {"domain": [-102, 102], "nice": false}, "axis": {"orient": "left", "values": [-100,-90,-80,-70,-60,-50,-40,-30,-20,-10,0,10,20,30,40,50,60,70,80,90,100], "tickSize": -4, "labels": false, "title": null}}}},
 {"transform": [{"filter": "datum.g=='B1' && isValid(datum.lo)"}], "mark": {"type": "tick", "orient": "horizontal", "size": 6, "thickness": 1, "color": "black", "opacity": 1}, "encoding": {"x": {"field": "r", "type": "quantitative", "scale": {"domain": [-44.7, 43.3], "nice": false}, "axis": {"orient": "top", "values": [-40,-35,-30,-25,-20,-15,-10,-5,0,5,10,15,20,25,30,35,40], "tickSize": -4, "labels": false, "title": null}}, "y": {"field": "hi", "type": "quantitative", "scale": {"domain": [-102, 102], "nice": false}, "axis": {"orient": "right", "values": [-100,-90,-80,-70,-60,-50,-40,-30,-20,-10,0,10,20,30,40,50,60,70,80,90,100], "tickSize": -4, "labels": false, "title": null}}}},
 {"transform": [{"filter": "datum.g=='B1' && datum.t=='o'"}], "mark": {"type": "point", "shape": "circle", "filled": false, "color": "black", "size": 40, "strokeWidth": 1, "opacity": 1}, "encoding": {"x": {"field": "r", "type": "quantitative", "scale": {"domain": [-44.7, 43.3], "nice": false}, "axis": null}, "y": {"field": "v", "type": "quantitative", "scale": {"domain": [-102, 102], "nice": false}, "axis": null}}},
 {"transform": [{"filter": "datum.g=='B1' && datum.t=='s'"}], "mark": {"type": "square", "color": "black", "size": 25, "opacity": 1}, "encoding": {"x": {"field": "r", "type": "quantitative", "scale": {"domain": [-44.7, 43.3], "nice": false}, "axis": null}, "y": {"field": "v", "type": "quantitative", "scale": {"domain": [-102, 102], "nice": false}, "axis": null}}},
 {"data": {"values": [{}]}, "mark": {"type": "text", "align": "left", "baseline": "middle", "font": "Liberation Sans", "fontSize": 13, "color": "black"}, "encoding": {"x": {"datum": -39.7, "type": "quantitative", "axis": null}, "y": {"datum": 72, "type": "quantitative", "axis": null}, "text": {"value": "NGC 2855 PA=30°"}}},
 {"data": {"values": [{}]}, "mark": {"type": "text", "align": "right", "baseline": "middle", "font": "Liberation Serif", "fontWeight": "bold", "fontSize": 14, "color": "black"}, "encoding": {"x": {"datum": 40.3, "type": "quantitative", "axis": null}, "y": {"datum": -80, "type": "quantitative", "axis": null}, "text": {"value": "SW"}}}
]},
{"width": 318, "height": 107, "resolve": {"axis": {"x": "independent", "y": "independent"}}, "layer": [
 {"data": {"values": [{}]}, "mark": {"type": "rule", "color": "black", "strokeWidth": 1, "strokeDash": [1.5, 2.5]}, "encoding": {"x": {"datum": 0, "type": "quantitative", "scale": {"domain": [-44.7, 43.3], "nice": false}, "axis": {"orient": "bottom", "values": [-40,-20,0,20,40], "tickSize": -8, "labels": false, "title": null}}}},
 {"data": {"values": [{}]}, "mark": {"type": "rule", "color": "black", "strokeWidth": 1, "strokeDash": [1.5, 2.5]}, "encoding": {"y": {"datum": 0, "type": "quantitative", "scale": {"domain": [-102, 102], "nice": false}, "axis": {"orient": "left", "values": [-90,-60,-30,0,30,60,90], "tickSize": -8, "labelPadding": 14, "title": "V [km s⁻¹]", "titlePadding": 5}}}},
 {"transform": [{"filter": "datum.g=='B2' && isValid(datum.lo)"}], "mark": {"type": "rule", "color": "black", "strokeWidth": 1}, "encoding": {"x": {"field": "r", "type": "quantitative", "scale": {"domain": [-44.7, 43.3], "nice": false}, "axis": {"orient": "top", "values": [-40,-20,0,20,40], "tickSize": -8, "labels": false, "title": null}}, "y": {"field": "lo", "type": "quantitative", "scale": {"domain": [-102, 102], "nice": false}, "axis": {"orient": "right", "values": [-90,-60,-30,0,30,60,90], "tickSize": -8, "labels": false, "title": null}}, "y2": {"field": "hi"}}},
 {"transform": [{"filter": "datum.g=='B2' && isValid(datum.lo)"}], "mark": {"type": "tick", "orient": "horizontal", "size": 6, "thickness": 1, "color": "black", "opacity": 1}, "encoding": {"x": {"field": "r", "type": "quantitative", "scale": {"domain": [-44.7, 43.3], "nice": false}, "axis": {"orient": "bottom", "values": [-40,-35,-30,-25,-20,-15,-10,-5,0,5,10,15,20,25,30,35,40], "tickSize": -4, "labels": false, "title": null}}, "y": {"field": "lo", "type": "quantitative", "scale": {"domain": [-102, 102], "nice": false}, "axis": {"orient": "left", "values": [-100,-90,-80,-70,-60,-50,-40,-30,-20,-10,0,10,20,30,40,50,60,70,80,90,100], "tickSize": -4, "labels": false, "title": null}}}},
 {"transform": [{"filter": "datum.g=='B2' && isValid(datum.lo)"}], "mark": {"type": "tick", "orient": "horizontal", "size": 6, "thickness": 1, "color": "black", "opacity": 1}, "encoding": {"x": {"field": "r", "type": "quantitative", "scale": {"domain": [-44.7, 43.3], "nice": false}, "axis": {"orient": "top", "values": [-40,-35,-30,-25,-20,-15,-10,-5,0,5,10,15,20,25,30,35,40], "tickSize": -4, "labels": false, "title": null}}, "y": {"field": "hi", "type": "quantitative", "scale": {"domain": [-102, 102], "nice": false}, "axis": {"orient": "right", "values": [-100,-90,-80,-70,-60,-50,-40,-30,-20,-10,0,10,20,30,40,50,60,70,80,90,100], "tickSize": -4, "labels": false, "title": null}}}},
 {"transform": [{"filter": "datum.g=='B2' && datum.t=='o'"}], "mark": {"type": "point", "shape": "circle", "filled": false, "color": "black", "size": 40, "strokeWidth": 1, "opacity": 1}, "encoding": {"x": {"field": "r", "type": "quantitative", "scale": {"domain": [-44.7, 43.3], "nice": false}, "axis": null}, "y": {"field": "v", "type": "quantitative", "scale": {"domain": [-102, 102], "nice": false}, "axis": null}}},
 {"transform": [{"filter": "datum.g=='B2' && datum.t=='s'"}], "mark": {"type": "square", "color": "black", "size": 25, "opacity": 1}, "encoding": {"x": {"field": "r", "type": "quantitative", "scale": {"domain": [-44.7, 43.3], "nice": false}, "axis": null}, "y": {"field": "v", "type": "quantitative", "scale": {"domain": [-102, 102], "nice": false}, "axis": null}}},
 {"data": {"values": [{}]}, "mark": {"type": "text", "align": "left", "baseline": "middle", "font": "Liberation Sans", "fontSize": 13, "color": "black"}, "encoding": {"x": {"datum": -39.7, "type": "quantitative", "axis": null}, "y": {"datum": 72, "type": "quantitative", "axis": null}, "text": {"value": "NGC 3885 PA=33°"}}},
 {"data": {"values": [{}]}, "mark": {"type": "text", "align": "right", "baseline": "middle", "font": "Liberation Serif", "fontWeight": "bold", "fontSize": 14, "color": "black"}, "encoding": {"x": {"datum": 40.3, "type": "quantitative", "axis": null}, "y": {"datum": -80, "type": "quantitative", "axis": null}, "text": {"value": "NE"}}}
]},
{"width": 318, "height": 107, "resolve": {"axis": {"x": "independent", "y": "independent"}}, "layer": [
 {"data": {"values": [{}]}, "mark": {"type": "rule", "color": "black", "strokeWidth": 1, "strokeDash": [1.5, 2.5]}, "encoding": {"x": {"datum": 0, "type": "quantitative", "scale": {"domain": [-44.7, 43.3], "nice": false}, "axis": {"orient": "bottom", "values": [-40,-20,0,20,40], "tickSize": -8, "labels": false, "title": null}}}},
 {"data": {"values": [{}]}, "mark": {"type": "rule", "color": "black", "strokeWidth": 1, "strokeDash": [1.5, 2.5]}, "encoding": {"y": {"datum": 0, "type": "quantitative", "scale": {"domain": [-102, 102], "nice": false}, "axis": {"orient": "left", "values": [-90,-60,-30,0,30,60,90], "tickSize": -8, "labelPadding": 14, "title": "V [km s⁻¹]", "titlePadding": 5}}}},
 {"transform": [{"filter": "datum.g=='B3' && isValid(datum.lo)"}], "mark": {"type": "rule", "color": "black", "strokeWidth": 1}, "encoding": {"x": {"field": "r", "type": "quantitative", "scale": {"domain": [-44.7, 43.3], "nice": false}, "axis": {"orient": "top", "values": [-40,-20,0,20,40], "tickSize": -8, "labels": false, "title": null}}, "y": {"field": "lo", "type": "quantitative", "scale": {"domain": [-102, 102], "nice": false}, "axis": {"orient": "right", "values": [-90,-60,-30,0,30,60,90], "tickSize": -8, "labels": false, "title": null}}, "y2": {"field": "hi"}}},
 {"transform": [{"filter": "datum.g=='B3' && isValid(datum.lo)"}], "mark": {"type": "tick", "orient": "horizontal", "size": 6, "thickness": 1, "color": "black", "opacity": 1}, "encoding": {"x": {"field": "r", "type": "quantitative", "scale": {"domain": [-44.7, 43.3], "nice": false}, "axis": {"orient": "bottom", "values": [-40,-35,-30,-25,-20,-15,-10,-5,0,5,10,15,20,25,30,35,40], "tickSize": -4, "labels": false, "title": null}}, "y": {"field": "lo", "type": "quantitative", "scale": {"domain": [-102, 102], "nice": false}, "axis": {"orient": "left", "values": [-100,-90,-80,-70,-60,-50,-40,-30,-20,-10,0,10,20,30,40,50,60,70,80,90,100], "tickSize": -4, "labels": false, "title": null}}}},
 {"transform": [{"filter": "datum.g=='B3' && isValid(datum.lo)"}], "mark": {"type": "tick", "orient": "horizontal", "size": 6, "thickness": 1, "color": "black", "opacity": 1}, "encoding": {"x": {"field": "r", "type": "quantitative", "scale": {"domain": [-44.7, 43.3], "nice": false}, "axis": {"orient": "top", "values": [-40,-35,-30,-25,-20,-15,-10,-5,0,5,10,15,20,25,30,35,40], "tickSize": -4, "labels": false, "title": null}}, "y": {"field": "hi", "type": "quantitative", "scale": {"domain": [-102, 102], "nice": false}, "axis": {"orient": "right", "values": [-100,-90,-80,-70,-60,-50,-40,-30,-20,-10,0,10,20,30,40,50,60,70,80,90,100], "tickSize": -4, "labels": false, "title": null}}}},
 {"transform": [{"filter": "datum.g=='B3' && datum.t=='o'"}], "mark": {"type": "point", "shape": "circle", "filled": false, "color": "black", "size": 40, "strokeWidth": 1, "opacity": 1}, "encoding": {"x": {"field": "r", "type": "quantitative", "scale": {"domain": [-44.7, 43.3], "nice": false}, "axis": null}, "y": {"field": "v", "type": "quantitative", "scale": {"domain": [-102, 102], "nice": false}, "axis": null}}},
 {"transform": [{"filter": "datum.g=='B3' && datum.t=='s'"}], "mark": {"type": "square", "color": "black", "size": 25, "opacity": 1}, "encoding": {"x": {"field": "r", "type": "quantitative", "scale": {"domain": [-44.7, 43.3], "nice": false}, "axis": null}, "y": {"field": "v", "type": "quantitative", "scale": {"domain": [-102, 102], "nice": false}, "axis": null}}},
 {"data": {"values": [{}]}, "mark": {"type": "text", "align": "left", "baseline": "middle", "font": "Liberation Sans", "fontSize": 13, "color": "black"}, "encoding": {"x": {"datum": -39.7, "type": "quantitative", "axis": null}, "y": {"datum": 72, "type": "quantitative", "axis": null}, "text": {"value": "NGC 4224 PA=147°"}}},
 {"data": {"values": [{}]}, "mark": {"type": "text", "align": "right", "baseline": "middle", "font": "Liberation Serif", "fontWeight": "bold", "fontSize": 14, "color": "black"}, "encoding": {"x": {"datum": 40.3, "type": "quantitative", "axis": null}, "y": {"datum": -80, "type": "quantitative", "axis": null}, "text": {"value": "SE"}}}
]},
{"width": 318, "height": 107, "resolve": {"axis": {"x": "independent", "y": "independent"}}, "layer": [
 {"data": {"values": [{}]}, "mark": {"type": "rule", "color": "black", "strokeWidth": 1, "strokeDash": [1.5, 2.5]}, "encoding": {"x": {"datum": 0, "type": "quantitative", "scale": {"domain": [-44.7, 43.3], "nice": false}, "axis": {"orient": "bottom", "values": [-40,-20,0,20,40], "tickSize": -8, "labels": false, "title": null}}}},
 {"data": {"values": [{}]}, "mark": {"type": "rule", "color": "black", "strokeWidth": 1, "strokeDash": [1.5, 2.5]}, "encoding": {"y": {"datum": 0, "type": "quantitative", "scale": {"domain": [-102, 102], "nice": false}, "axis": {"orient": "left", "values": [-90,-60,-30,0,30,60,90], "tickSize": -8, "labelPadding": 14, "title": "V [km s⁻¹]", "titlePadding": 5}}}},
 {"transform": [{"filter": "datum.g=='B4' && isValid(datum.lo)"}], "mark": {"type": "rule", "color": "black", "strokeWidth": 1}, "encoding": {"x": {"field": "r", "type": "quantitative", "scale": {"domain": [-44.7, 43.3], "nice": false}, "axis": {"orient": "top", "values": [-40,-20,0,20,40], "tickSize": -8, "labels": false, "title": null}}, "y": {"field": "lo", "type": "quantitative", "scale": {"domain": [-102, 102], "nice": false}, "axis": {"orient": "right", "values": [-90,-60,-30,0,30,60,90], "tickSize": -8, "labels": false, "title": null}}, "y2": {"field": "hi"}}},
 {"transform": [{"filter": "datum.g=='B4' && isValid(datum.lo)"}], "mark": {"type": "tick", "orient": "horizontal", "size": 6, "thickness": 1, "color": "black", "opacity": 1}, "encoding": {"x": {"field": "r", "type": "quantitative", "scale": {"domain": [-44.7, 43.3], "nice": false}, "axis": {"orient": "bottom", "values": [-40,-35,-30,-25,-20,-15,-10,-5,0,5,10,15,20,25,30,35,40], "tickSize": -4, "labels": false, "title": null}}, "y": {"field": "lo", "type": "quantitative", "scale": {"domain": [-102, 102], "nice": false}, "axis": {"orient": "left", "values": [-100,-90,-80,-70,-60,-50,-40,-30,-20,-10,0,10,20,30,40,50,60,70,80,90,100], "tickSize": -4, "labels": false, "title": null}}}},
 {"transform": [{"filter": "datum.g=='B4' && isValid(datum.lo)"}], "mark": {"type": "tick", "orient": "horizontal", "size": 6, "thickness": 1, "color": "black", "opacity": 1}, "encoding": {"x": {"field": "r", "type": "quantitative", "scale": {"domain": [-44.7, 43.3], "nice": false}, "axis": {"orient": "top", "values": [-40,-35,-30,-25,-20,-15,-10,-5,0,5,10,15,20,25,30,35,40], "tickSize": -4, "labels": false, "title": null}}, "y": {"field": "hi", "type": "quantitative", "scale": {"domain": [-102, 102], "nice": false}, "axis": {"orient": "right", "values": [-100,-90,-80,-70,-60,-50,-40,-30,-20,-10,0,10,20,30,40,50,60,70,80,90,100], "tickSize": -4, "labels": false, "title": null}}}},
 {"transform": [{"filter": "datum.g=='B4' && datum.t=='o'"}], "mark": {"type": "point", "shape": "circle", "filled": false, "color": "black", "size": 40, "strokeWidth": 1, "opacity": 1}, "encoding": {"x": {"field": "r", "type": "quantitative", "scale": {"domain": [-44.7, 43.3], "nice": false}, "axis": null}, "y": {"field": "v", "type": "quantitative", "scale": {"domain": [-102, 102], "nice": false}, "axis": null}}},
 {"transform": [{"filter": "datum.g=='B4' && datum.t=='s'"}], "mark": {"type": "square", "color": "black", "size": 25, "opacity": 1}, "encoding": {"x": {"field": "r", "type": "quantitative", "scale": {"domain": [-44.7, 43.3], "nice": false}, "axis": null}, "y": {"field": "v", "type": "quantitative", "scale": {"domain": [-102, 102], "nice": false}, "axis": null}}},
 {"data": {"values": [{}]}, "mark": {"type": "text", "align": "left", "baseline": "middle", "font": "Liberation Sans", "fontSize": 13, "color": "black"}, "encoding": {"x": {"datum": -39.7, "type": "quantitative", "axis": null}, "y": {"datum": 72, "type": "quantitative", "axis": null}, "text": {"value": "NGC 4586 PA=25°"}}},
 {"data": {"values": [{}]}, "mark": {"type": "text", "align": "right", "baseline": "middle", "font": "Liberation Serif", "fontWeight": "bold", "fontSize": 14, "color": "black"}, "encoding": {"x": {"datum": 40.3, "type": "quantitative", "axis": null}, "y": {"datum": -80, "type": "quantitative", "axis": null}, "text": {"value": "SW"}}}
]},
{"width": 318, "height": 107, "resolve": {"axis": {"x": "independent", "y": "independent"}}, "layer": [
 {"data": {"values": [{}]}, "mark": {"type": "rule", "color": "black", "strokeWidth": 1, "strokeDash": [1.5, 2.5]}, "encoding": {"x": {"datum": 0, "type": "quantitative", "scale": {"domain": [-44.7, 43.3], "nice": false}, "axis": {"orient": "bottom", "values": [-40,-20,0,20,40], "tickSize": -8, "labelPadding": 14, "title": "r [arcsec]", "titlePadding": 3, "titleFontSize": 19}}}},
 {"data": {"values": [{}]}, "mark": {"type": "rule", "color": "black", "strokeWidth": 1, "strokeDash": [1.5, 2.5]}, "encoding": {"y": {"datum": 0, "type": "quantitative", "scale": {"domain": [-102, 102], "nice": false}, "axis": {"orient": "left", "values": [-90,-60,-30,0,30,60,90], "tickSize": -8, "labelPadding": 14, "title": "V [km s⁻¹]", "titlePadding": 5}}}},
 {"transform": [{"filter": "datum.g=='B5' && isValid(datum.lo)"}], "mark": {"type": "rule", "color": "black", "strokeWidth": 1}, "encoding": {"x": {"field": "r", "type": "quantitative", "scale": {"domain": [-44.7, 43.3], "nice": false}, "axis": {"orient": "top", "values": [-40,-20,0,20,40], "tickSize": -8, "labels": false, "title": null}}, "y": {"field": "lo", "type": "quantitative", "scale": {"domain": [-102, 102], "nice": false}, "axis": {"orient": "right", "values": [-90,-60,-30,0,30,60,90], "tickSize": -8, "labels": false, "title": null}}, "y2": {"field": "hi"}}},
 {"transform": [{"filter": "datum.g=='B5' && isValid(datum.lo)"}], "mark": {"type": "tick", "orient": "horizontal", "size": 6, "thickness": 1, "color": "black", "opacity": 1}, "encoding": {"x": {"field": "r", "type": "quantitative", "scale": {"domain": [-44.7, 43.3], "nice": false}, "axis": {"orient": "bottom", "values": [-40,-35,-30,-25,-20,-15,-10,-5,0,5,10,15,20,25,30,35,40], "tickSize": -4, "labels": false, "title": null}}, "y": {"field": "lo", "type": "quantitative", "scale": {"domain": [-102, 102], "nice": false}, "axis": {"orient": "left", "values": [-100,-90,-80,-70,-60,-50,-40,-30,-20,-10,0,10,20,30,40,50,60,70,80,90,100], "tickSize": -4, "labels": false, "title": null}}}},
 {"transform": [{"filter": "datum.g=='B5' && isValid(datum.lo)"}], "mark": {"type": "tick", "orient": "horizontal", "size": 6, "thickness": 1, "color": "black", "opacity": 1}, "encoding": {"x": {"field": "r", "type": "quantitative", "scale": {"domain": [-44.7, 43.3], "nice": false}, "axis": {"orient": "top", "values": [-40,-35,-30,-25,-20,-15,-10,-5,0,5,10,15,20,25,30,35,40], "tickSize": -4, "labels": false, "title": null}}, "y": {"field": "hi", "type": "quantitative", "scale": {"domain": [-102, 102], "nice": false}, "axis": {"orient": "right", "values": [-100,-90,-80,-70,-60,-50,-40,-30,-20,-10,0,10,20,30,40,50,60,70,80,90,100], "tickSize": -4, "labels": false, "title": null}}}},
 {"transform": [{"filter": "datum.g=='B5' && datum.t=='o'"}], "mark": {"type": "point", "shape": "circle", "filled": false, "color": "black", "size": 40, "strokeWidth": 1, "opacity": 1}, "encoding": {"x": {"field": "r", "type": "quantitative", "scale": {"domain": [-44.7, 43.3], "nice": false}, "axis": null}, "y": {"field": "v", "type": "quantitative", "scale": {"domain": [-102, 102], "nice": false}, "axis": null}}},
 {"transform": [{"filter": "datum.g=='B5' && datum.t=='s'"}], "mark": {"type": "square", "color": "black", "size": 25, "opacity": 1}, "encoding": {"x": {"field": "r", "type": "quantitative", "scale": {"domain": [-44.7, 43.3], "nice": false}, "axis": null}, "y": {"field": "v", "type": "quantitative", "scale": {"domain": [-102, 102], "nice": false}, "axis": null}}},
 {"data": {"values": [{}]}, "mark": {"type": "text", "align": "left", "baseline": "middle", "font": "Liberation Sans", "fontSize": 13, "color": "black"}, "encoding": {"x": {"datum": -39.7, "type": "quantitative", "axis": null}, "y": {"datum": 72, "type": "quantitative", "axis": null}, "text": {"value": "NGC 7049 PA=147°"}}},
 {"data": {"values": [{}]}, "mark": {"type": "text", "align": "right", "baseline": "middle", "font": "Liberation Serif", "fontWeight": "bold", "fontSize": 14, "color": "black"}, "encoding": {"x": {"datum": 40.3, "type": "quantitative", "axis": null}, "y": {"datum": -80, "type": "quantitative", "axis": null}, "text": {"value": "SE"}}}
]}
]}
],
"config": {
 "view": {"stroke": "black", "strokeWidth": 2},
 "axis": {"grid": false, "domain": false, "tickColor": "black", "tickWidth": 1, "labelFont": "Liberation Sans", "labelFontSize": 13, "labelColor": "black", "labelFlush": false, "labelOverlap": false, "titleFont": "Liberation Serif", "titleFontSize": 17, "titleFontWeight": "normal", "titleColor": "black"},
 "title": {"font": "Liberation Serif", "fontSize": 19, "fontWeight": "normal", "color": "black", "offset": 20, "anchor": "middle"}
}
}
